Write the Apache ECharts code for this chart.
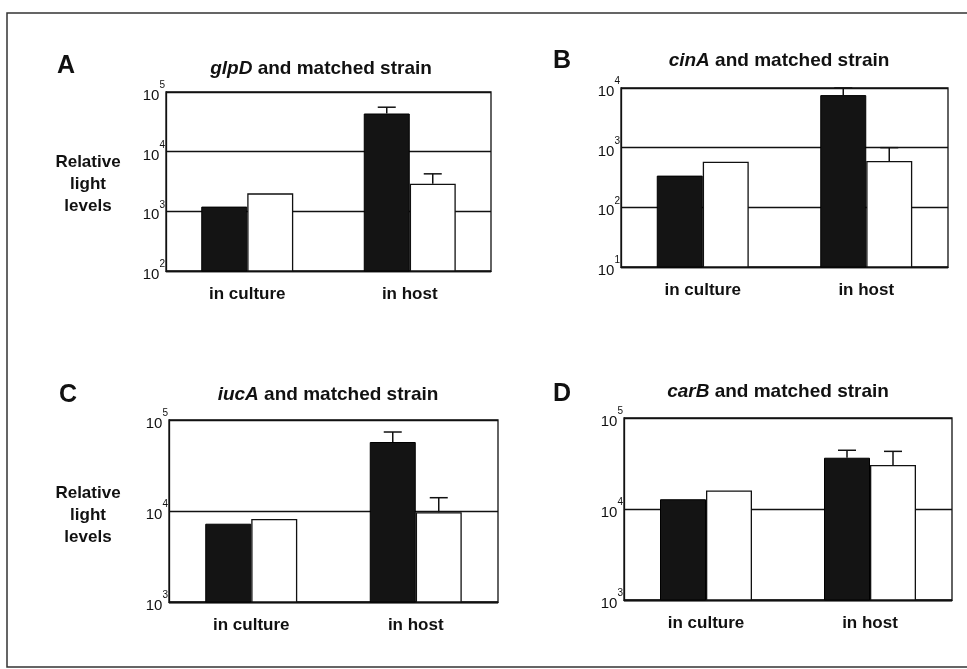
<!DOCTYPE html>
<html>
<head>
<meta charset="utf-8">
<script src="https://cdn.jsdelivr.net/npm/echarts@6/dist/echarts.min.js"></script>
<style>
html,body{margin:0;padding:0;background:#fff;}
#chart{width:967px;height:669px;}
</style>
</head>
<body>
<div id="chart"></div>
<script>
// ---- data ----
const categories = ['in culture', 'in host'];

const glpDMutant = [1200, 43600];
const glpDMatched = [2000, 2900];
const glpDMutantErr = [null, 55600];
const glpDMatchedErr = [null, 4250];

const cinAMutant = [340, 7600];
const cinAMatched = [580, 600];
const cinAMutantErr = [null, 10000];
const cinAMatchedErr = [null, 1000];

const iucAMutant = [7250, 57300];
const iucAMatched = [8170, 9680];
const iucAMutantErr = [null, 73800];
const iucAMatchedErr = [null, 14000];

const carBMutant = [12800, 36600];
const carBMatched = [16000, 30500];
const carBMutantErr = [null, 44200];
const carBMatchedErr = [null, 43000];

const panelLetters = ['A', 'B', 'C', 'D'];
const geneNames = ['glpD', 'cinA', 'iucA', 'carB'];
const titleRest = ' and matched strain';
const yMin = [1e2, 1e1, 1e3, 1e3];
const yMax = [1e5, 1e4, 1e5, 1e5];
const yName = ['Relative', 'light', 'levels'];

const mutants = [glpDMutant, cinAMutant, iucAMutant, carBMutant];
const matched = [glpDMatched, cinAMatched, iucAMatched, carBMatched];
const mutantErr = [glpDMutantErr, cinAMutantErr, iucAMutantErr, carBMutantErr];
const matchedErr = [glpDMatchedErr, cinAMatchedErr, iucAMatchedErr, carBMatchedErr];

// ---- layout ----
const BAR_W = 46;
const FONT = '"Liberation Sans", Arial, Helvetica, sans-serif';
const grids = [
  {left: 166, top: 92, width: 325, height: 179},
  {left: 621, top: 88, width: 327, height: 179},
  {left: 169, top: 420, width: 329, height: 182},
  {left: 624, top: 418, width: 328, height: 182}
];
const letterPos = [[66, 66], [562, 61], [68, 395], [562, 394]];
const titlePos = [[321, 69], [779, 61], [328, 395], [778, 392]];
const yNamePos = [[88, 184], null, [88, 515], null];

const chart = echarts.init(document.getElementById('chart'), null, {renderer: 'canvas'});

const option = {
  backgroundColor: '#ffffff',
  animation: false,
  grid: grids.map(g => Object.assign({show: true, borderColor: '#111', borderWidth: 1.3, backgroundColor: 'transparent', containLabel: false}, g)),
  xAxis: grids.map((g, i) => ({
    type: 'category',
    gridIndex: i,
    data: categories,
    axisLine: {show: true, lineStyle: {color: '#111', width: 1.3}},
    axisTick: {show: false},
    axisLabel: {margin: 15, color: '#111', fontFamily: FONT, fontWeight: 'bold', fontSize: 17},
    splitLine: {show: false}
  })),
  yAxis: grids.map((g, i) => ({
    type: 'log',
    logBase: 10,
    gridIndex: i,
    min: yMin[i],
    max: yMax[i],
    axisLine: {show: true, lineStyle: {color: '#111', width: 1.3}},
    axisTick: {show: false},
    splitLine: {show: true, lineStyle: {color: '#111', width: 1.3}},
    minorTick: {show: false},
    minorSplitLine: {show: false},
    axisLabel: {
      margin: 1,
      color: '#111',
      fontFamily: FONT,
      formatter: function (v) {
        const e = Math.round(Math.log10(v));
        return '{n|10}{s|' + e + '}';
      },
      rich: {
        n: {fontSize: 15, lineHeight: 23, verticalAlign: 'bottom', fontFamily: FONT, color: '#111'},
        s: {fontSize: 10, lineHeight: 23, verticalAlign: 'top', fontFamily: FONT, color: '#111'}
      }
    }
  })),
  series: [],
  graphic: []
};

function errData(vals, errs) {
  const out = [];
  for (let k = 0; k < vals.length; k++) {
    if (errs[k] != null) out.push([k, vals[k], errs[k]]);
  }
  return out;
}

function makeErrRender(side) {
  return function (params, api) {
    const cat = api.value(0);
    const top = api.coord([cat, api.value(2)]);
    const bot = api.coord([cat, api.value(1)]);
    const x = top[0] + side * BAR_W / 2;
    return {
      type: 'group',
      children: [
        {type: 'line', shape: {x1: x, y1: bot[1], x2: x, y2: top[1]}, style: {stroke: '#111', lineWidth: 1.5}},
        {type: 'line', shape: {x1: x - 9, y1: top[1], x2: x + 9, y2: top[1]}, style: {stroke: '#111', lineWidth: 1.5}}
      ]
    };
  };
}

for (let i = 0; i < 4; i++) {
  option.series.push({
    type: 'bar', xAxisIndex: i, yAxisIndex: i,
    data: mutants[i], barWidth: BAR_W, barGap: '0%',
    itemStyle: {color: '#141414', borderColor: '#000', borderWidth: 1},
    z: 2
  });
  option.series.push({
    type: 'bar', xAxisIndex: i, yAxisIndex: i,
    data: matched[i], barWidth: BAR_W, barGap: '0%',
    itemStyle: {color: '#ffffff', borderColor: '#111', borderWidth: 1.3},
    z: 2
  });
  option.series.push({
    type: 'custom', xAxisIndex: i, yAxisIndex: i,
    data: errData(mutants[i], mutantErr[i]),
    renderItem: makeErrRender(-1), clip: false, z: 5
  });
  option.series.push({
    type: 'custom', xAxisIndex: i, yAxisIndex: i,
    data: errData(matched[i], matchedErr[i]),
    renderItem: makeErrRender(1), clip: false, z: 5
  });

  option.graphic.push({
    type: 'text', x: letterPos[i][0], y: letterPos[i][1],
    style: {text: panelLetters[i], fill: '#111', font: 'bold 25px ' + FONT, align: 'center', verticalAlign: 'middle'}
  });
  option.graphic.push({
    type: 'text', x: titlePos[i][0], y: titlePos[i][1],
    style: {
      text: '{i|' + geneNames[i] + '}{n|' + titleRest + '}',
      align: 'center', verticalAlign: 'middle',
      rich: {
        i: {fontFamily: FONT, fontSize: 19, fontWeight: 'bold', fontStyle: 'italic', fill: '#111'},
        n: {fontFamily: FONT, fontSize: 19, fontWeight: 'bold', fill: '#111'}
      }
    }
  });
  if (yNamePos[i]) {
    option.graphic.push({
      type: 'text', x: yNamePos[i][0], y: yNamePos[i][1],
      style: {text: yName.join('\n'), fill: '#111', font: 'bold 17px ' + FONT, lineHeight: 22, align: 'center', verticalAlign: 'middle'}
    });
  }
}

// page frame
option.graphic.push({
  type: 'rect', silent: true, z: -1,
  shape: {x: 7, y: 13, width: 1000, height: 654},
  style: {fill: 'none', stroke: '#333', lineWidth: 1.5}
});

chart.setOption(option);
</script>
</body>
</html>
